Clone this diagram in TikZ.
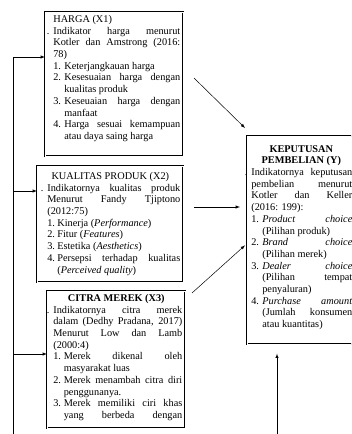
\documentclass[tikz,border=0pt]{standalone}
\usepackage{fontspec}
\setmainfont{Liberation Serif}
\usetikzlibrary{calc}

\newlength{\gantung}
\newcommand{\judul}[1]{{\centering #1\par}}
\newcommand{\indikator}[1]{\par\noindent\llap{.\hspace{4pt}}#1}
\newcommand{\butir}[2]{\par\hangindent=\gantung\hangafter=1\noindent\makebox[\gantung][l]{#1}#2}
\newcommand{\isi}[4]{\parbox[t][#2][t]{#1}{\fontsize{10.3}{11.7}\selectfont
  \parindent=0pt\hyphenpenalty=10000\tolerance=10000\leftskip=#3 #4}}

\tikzset{
  kotak/.style={draw, double, double distance=.6pt, line width=.65pt, anchor=north west, inner sep=3pt},
  panah/.style={->, >=latex, line width=.5pt}
}

\begin{document}
\begin{tikzpicture}[x=1pt, y=-1pt]
\useasboundingbox (0,0) rectangle (351,434);
\clip (0,0) rectangle (351,434);

\node[kotak] (harga) at (45,12) {\isi{132pt}{138pt}{5pt}{\setlength{\gantung}{11pt}%
HARGA (X1)
\indikator{Indikator harga menurut\linebreak Kotler dan Amstrong (2016:\linebreak 78)}
\butir{1.}{Keterjangkauan harga}
\butir{2.}{Kesesuaian harga dengan\linebreak kualitas produk}
\butir{3.}{Keseuaian harga dengan\linebreak manfaat}
\butir{4.}{Harga sesuai kemampuan\linebreak atau daya saing harga}}};

\node[kotak] (kualitas) at (37,166) {\isi{140pt}{110pt}{7pt}{\setlength{\gantung}{10pt}%
\vspace*{3pt}\judul{KUALITAS PRODUK (X2)}
\indikator{Indikatornya kualitas produk\linebreak Menurut Fandy Tjiptono\linebreak (2012:75)}
\butir{1.}{Kinerja (\textit{Performance})}
\butir{2.}{Fitur (\textit{Features})}
\butir{3.}{Estetika (\textit{Aesthetics})}
\butir{4.}{Persepsi terhadap kualitas\linebreak (\textit{Perceived quality})}}};

\node[kotak] (citra) at (47,291) {\isi{132pt}{131pt}{3pt}{\setlength{\gantung}{10.5pt}%
\judul{\textbf{CITRA MEREK (X3)}}
\indikator{Indikatornya citra merek\linebreak dalam (Dedhy Pradana, 2017)\linebreak Menurut Low dan Lamb\linebreak (2000:4)}
\butir{1.}{Merek dikenal oleh\linebreak masyarakat luas}
\butir{2.}{Merek menambah citra diri\linebreak penggunanya.}
\butir{3.}{Merek memiliki ciri khas\linebreak yang\hfill berbeda\hfill dengan}}};

\node[kotak] (keputusan) at (247,136) {\isi{102pt}{202pt}{1pt}{\setlength{\gantung}{11pt}%
\vspace*{6pt}\judul{\textbf{KEPUTUSAN\\ PEMBELIAN (Y)}}
\indikator{Indikatornya keputusan\linebreak pembelian menurut\linebreak Kotler dan Keller\linebreak (2016: 199):}
\butir{1.}{\textit{Product choice}\linebreak (Pilihan produk)}
\butir{2.}{\textit{Brand choice}\linebreak (Pilihan merek)}
\butir{3.}{\textit{Dealer choice}\linebreak (Pilihan tempat\linebreak penyaluran)}
\butir{4.}{\textit{Purchase amount}\linebreak (Jumlah konsumen\linebreak atau kuantitas)}}};

% garis kiri ke X1, X2, X3
\coordinate (bawahkiri) at (13,434);
\coordinate (atas) at (13,57);
\draw[panah] (bawahkiri) -- (atas) -- (harga.west |- atas);
\foreach \n/\y in {kualitas/191, citra/354}
	\draw[panah] (atas |- 0,\y) -- (\n.west |- 0,\y);

% panah ke Y
\coordinate (a1) at (194,78);  \coordinate (b1) at ($(keputusan.north west)+(-2,-8)$);
\coordinate (a2) at (194,207); \coordinate (b2) at ($(keputusan.west |- a2)+(-7,0)$);
\coordinate (a3) at (192,293); \coordinate (b3) at ($(keputusan.west)+(-2,5)$);
\foreach \i in {1,2,3} \draw[panah] (a\i) -- (b\i);
\coordinate (bawah) at (277,434);
\draw[panah] (bawah) -- ($(keputusan.south -| bawah)+(0,9)$);
\end{tikzpicture}
\end{document}
